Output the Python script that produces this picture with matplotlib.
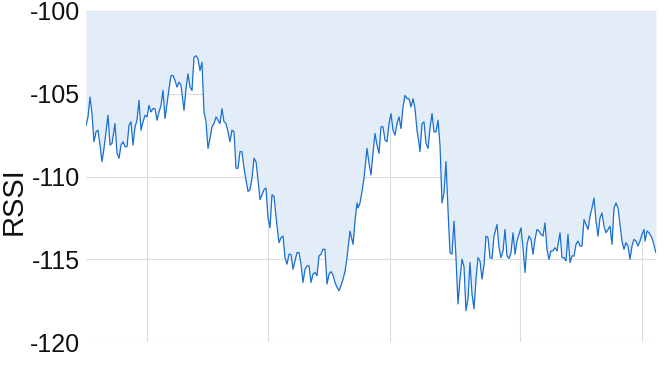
import matplotlib
matplotlib.use("Agg")
import matplotlib.pyplot as plt
import numpy as np

# sample times (arbitrary units) and RSSI readings
t = [0, 2, 4, 6, 8, 10, 12, 14, 16, 18, 20, 22, 24, 26, 29, 31, 33, 35, 37, 39,
     41, 43, 45, 47, 49, 51, 53, 55, 57, 59, 61, 63, 65, 67, 69, 71, 73, 75, 77, 79,
     81, 83, 85, 87, 89, 91, 93, 95, 98, 100, 102, 104, 106, 108, 110, 112, 114, 116, 118, 120,
     122, 124, 126, 128, 130, 132, 134, 136, 138, 140, 142, 144, 146, 148, 150, 152, 154, 156, 158, 160,
     162, 164, 166, 168, 170, 172, 174, 176, 178, 180, 182, 184, 186, 188, 191, 193, 195, 197, 199, 201,
     203, 205, 207, 209, 211, 213, 215, 217, 219, 221, 223, 225, 227, 229, 231, 233, 235, 237, 239, 241,
     243, 245, 247, 249, 251, 253, 255, 257, 259, 261, 264, 267, 269, 271, 272, 274, 276, 278, 281, 283,
     285, 287, 289, 291, 293, 295, 297, 299, 301, 303, 305, 307, 309, 311, 313, 315, 317, 319, 321, 323,
     325, 327, 329, 331, 333, 334, 336, 338, 340, 342, 344, 346, 348, 350, 352, 354, 356, 358, 360, 362,
     364, 366, 368, 370, 372, 374, 376, 378, 380, 382, 384, 386, 388, 390, 392, 394, 396, 398, 400, 402,
     404, 406, 408, 411, 413, 415, 417, 419, 421, 423, 425, 427, 429, 431, 433, 435, 437, 439, 441, 443,
     445, 447, 449, 451, 453, 455, 457, 459, 461, 463, 465, 467, 469, 471, 474, 476, 478, 480, 482, 484,
     486, 488, 490, 492, 494, 496, 498, 500, 502, 504, 506, 508, 510, 512, 514, 516, 518, 520, 522, 524,
     526, 528, 530, 532, 534, 536, 538, 540, 542, 544, 546, 548, 550, 552, 554, 556, 558, 559, 561, 563,
     565, 567, 569, 570]

rssi = [-106.9, -106.4, -105.2, -106.2, -107.9, -107.3, -107.2, -108.1, -109.1, -108.3,
        -107.3, -106.3, -108.1, -108.0, -106.8, -108.6, -108.9, -108.1, -107.9, -108.2,
        -108.2, -106.9, -106.7, -108.1, -107.0, -106.6, -105.4, -107.2, -106.7, -106.3,
        -106.4, -105.7, -106.1, -105.9, -105.9, -106.6, -106.1, -105.7, -104.8, -106.5,
        -105.6, -104.7, -103.9, -103.9, -104.2, -104.6, -104.3, -104.5, -106.0, -104.7,
        -103.8, -104.6, -104.8, -102.8, -102.7, -102.9, -103.6, -103.1, -106.1, -106.7,
        -108.3, -107.7, -107.0, -106.8, -106.4, -106.6, -106.8, -105.9, -106.7, -106.8,
        -107.3, -107.9, -107.2, -107.3, -109.5, -109.5, -108.5, -108.5, -109.5, -110.2,
        -110.9, -110.8, -110.1, -108.9, -109.1, -110.2, -111.4, -111.1, -110.8, -110.7,
        -112.5, -113.1, -111.1, -111.2, -113.0, -114.0, -113.7, -113.6, -114.9, -115.3,
        -114.7, -114.7, -115.6, -115.1, -114.6, -114.6, -115.3, -116.4, -115.6, -115.4,
        -115.4, -116.4, -115.9, -115.8, -116.0, -114.8, -114.7, -114.4, -114.4, -116.5,
        -115.9, -115.75, -115.95, -116.4, -116.7, -116.9, -116.6, -116.2, -115.75, -114.9,
        -113.3, -114.1, -112.7, -111.6, -111.9, -111.6, -110.9, -110.1, -108.3, -109.2,
        -109.9, -108.6, -107.4, -108.1, -108.6, -107.0, -107.0, -107.8, -107.9, -106.8,
        -106.2, -107.2, -107.5, -106.8, -106.4, -107.1, -105.8, -105.1, -105.3, -105.3,
        -105.8, -105.3, -105.9, -107.2, -108.0, -108.5, -106.8, -106.7, -108.0, -108.3,
        -107.1, -106.2, -107.3, -107.3, -106.6, -108.1, -111.6, -111.0, -109.1, -112.0,
        -114.6, -114.7, -112.7, -114.9, -117.7, -116.2, -115.0, -115.45, -118.1, -117.4,
        -115.2, -117.1, -118.0, -116.2, -114.9, -115.1, -116.2, -115.35, -113.6, -113.7,
        -114.9, -114.95, -113.6, -112.9, -114.3, -114.9, -114.5, -113.2, -114.8, -114.95,
        -114.6, -113.4, -114.7, -113.9, -113.5, -113.1, -114.3, -115.8, -114.1, -113.6,
        -113.8, -114.7, -113.8, -113.2, -113.3, -113.5, -113.6, -112.8, -114.4, -115.0,
        -114.5, -114.5, -114.3, -114.5, -113.4, -114.9, -114.9, -115.1, -113.5, -115.2,
        -114.8, -114.8, -114.1, -113.9, -114.2, -114.2, -112.6, -112.9, -113.2, -112.4,
        -111.9, -111.3, -112.7, -113.6, -112.5, -112.2, -113.0, -113.4, -113.2, -113.0,
        -114.1, -111.9, -111.6, -111.9, -112.9, -113.9, -114.4, -114.0, -114.2, -115.0,
        -114.2, -113.8, -113.9, -114.2, -113.9, -113.5, -113.2, -113.9, -113.3, -113.4,
        -113.6, -113.9, -114.4, -114.6]

x_ticks = [61, 182, 304, 434, 556]
y_ticks = [-120, -115, -110, -105, -100]

line_color = '#1a6fd0'
fill_color = '#e3edf8'

fig = plt.figure(figsize=(6.66, 3.79), dpi=100)
ax = fig.add_axes([86 / 666, 1 - 342 / 379, 570 / 666, 331 / 379])

ax.fill_between(t, rssi, -100, color=fill_color, linewidth=0, zorder=1)
ax.plot(t, rssi, color=line_color, linewidth=0.9, zorder=3)

ax.set_xlim(0, 570)
ax.set_ylim(-120, -100)
ax.set_xticks(x_ticks)
ax.set_xticklabels([])
ax.set_yticks(y_ticks)
ax.set_yticklabels([str(v) for v in y_ticks], fontsize=18, family='Liberation Sans', color='#111111')
ax.tick_params(axis='both', length=0, pad=4)
ax.grid(True, color='#d8dde3', linewidth=0.8, zorder=0)
ax.set_axisbelow(True)
for s in ax.spines.values():
    s.set_visible(False)

ax.set_ylabel('RSSI', fontsize=21, family='Liberation Sans', color='#111111')
ax.yaxis.set_label_coords(-0.102, 0.425)

fig.savefig('out.png', dpi=100)
